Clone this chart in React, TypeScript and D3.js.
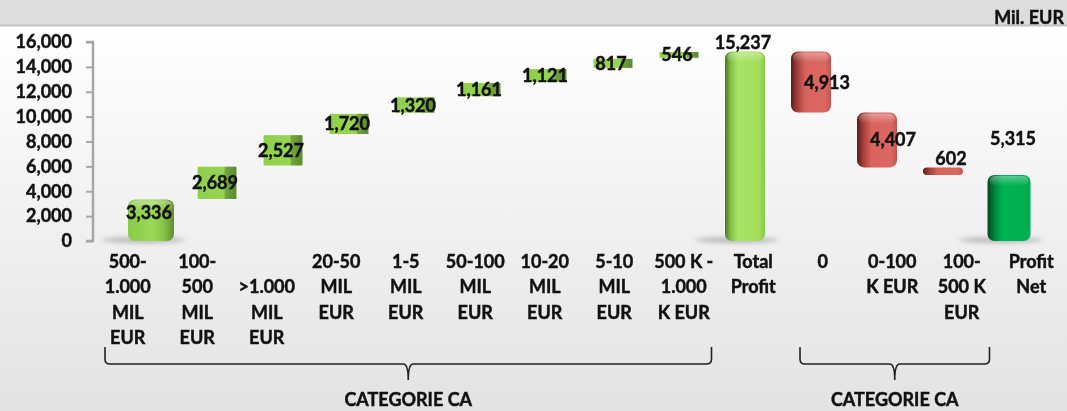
import React, { useEffect, useRef } from "react";
import * as d3 from "d3";

const categories = [
  ["500-", "1.000", "MIL", "EUR"],
  ["100-", "500", "MIL", "EUR"],
  ["", ">1.000", "MIL", "EUR"],
  ["20-50", "MIL", "EUR"],
  ["1-5", "MIL", "EUR"],
  ["50-100", "MIL", "EUR"],
  ["10-20", "MIL", "EUR"],
  ["5-10", "MIL", "EUR"],
  ["500 K -", "1.000", "K EUR"],
  ["Total", "Profit"],
  ["0"],
  ["0-100", "K EUR"],
  ["100-", "500 K", "EUR"],
  ["Profit", "Net"],
];

const deltas = [3336, 2689, 2527, 1720, 1320, 1161, 1121, 817, 546, 15237, -4913, -4407, -602, 5315];
const kinds = ["up", "up", "up", "up", "up", "up", "up", "up", "up", "total", "down", "down", "down", "net"];
const yTicks = [0, 2000, 4000, 6000, 8000, 10000, 12000, 14000, 16000];
const groups = [
  { from: 0, to: 8, label: "CATEGORIE CA" },
  { from: 10, to: 12, label: "CATEGORIE CA" },
];
const unitLabel = "Mil. EUR";

const FONT = "Lato, 'Open Sans', sans-serif";

export default function App() {
  const svgRef = useRef<SVGSVGElement | null>(null);

  useEffect(() => {
    if (!svgRef.current) return;
    const width = 1067;
    const height = 411;

    const svg = d3.select(svgRef.current);
    svg.selectAll("*").remove();
    svg.attr("width", width).attr("height", height);

    // running totals for the waterfall
    let run = 0;
    const bars = deltas.map((v, i) => {
      const kind = kinds[i];
      let start: number, end: number;
      if (kind === "total" || kind === "net") {
        start = 0;
        end = v;
        run = v;
      } else {
        start = run;
        end = run + v;
        run = end;
      }
      return { i, kind, value: Math.abs(v), lo: Math.min(start, end), hi: Math.max(start, end) };
    });

    const idx = categories.map((_, i) => String(i));
    const xLabel = d3.scaleBand().domain(idx).range([93, 1066]);
    const xBar = d3.scaleBand().domain(idx).range([118, 1042]).paddingInner(0.4).paddingOuter(0.2);
    const y = d3.scaleLinear().domain([0, 16000]).range([241, 42]);
    const fmt = d3.format(",");

    // bold text, a touch heavier to match the original rendering
    const boldText = (sel: any) =>
      sel.attr("font-family", FONT).attr("font-weight", 700).attr("font-size", 18)
        .attr("fill", "#111").attr("stroke", "#111").attr("stroke-width", 0.45);

    const defs = svg.append("defs");
    const hGrad = (id: string, stops: [number, string][]) => {
      const g = defs.append("linearGradient").attr("id", id).attr("x1", "0").attr("x2", "1").attr("y1", "0").attr("y2", "0");
      stops.forEach(([o, c]) => g.append("stop").attr("offset", o).attr("stop-color", c));
    };
    hGrad("g-up", [[0, "#8fcf4c"], [0.68, "#97d654"], [0.7, "#76a83e"], [1, "#5a872c"]]);
    hGrad("g-first", [[0, "#8ccb4a"], [0.55, "#9ad858"], [0.78, "#86c246"], [1, "#5f8e30"]]);
    hGrad("g-total", [[0, "#4b7620"], [0.14, "#80bf45"], [0.32, "#a8e362"], [0.85, "#a2de5c"], [1, "#8ac64a"]]);
    hGrad("g-down", [[0, "#5e1a17"], [0.16, "#a4403a"], [0.36, "#d9625c"], [0.85, "#db6862"], [1, "#c4544e"]]);
    hGrad("g-net", [[0, "#00471f"], [0.16, "#00843b"], [0.36, "#00b453"], [1, "#00ad4e"]]);

    const bg = defs.append("linearGradient").attr("id", "g-bg").attr("x1", "0").attr("x2", "0").attr("y1", "0").attr("y2", "1");
    bg.append("stop").attr("offset", 0).attr("stop-color", "#ffffff");
    bg.append("stop").attr("offset", 1).attr("stop-color", "#e3e3e3");

    const hl = defs.append("linearGradient").attr("id", "g-hl").attr("x1", "0").attr("x2", "0").attr("y1", "0").attr("y2", "1");
    hl.append("stop").attr("offset", 0).attr("stop-color", "#ffffff").attr("stop-opacity", 0.35);
    hl.append("stop").attr("offset", 1).attr("stop-color", "#ffffff").attr("stop-opacity", 0);

    defs.append("filter").attr("id", "f-blur").attr("x", "-50%").attr("y", "-200%").attr("width", "200%").attr("height", "500%")
      .append("feGaussianBlur").attr("stdDeviation", 2.5);

    // background + header strip
    svg.append("rect").attr("x", 0).attr("y", 26).attr("width", width).attr("height", height - 26).attr("fill", "url(#g-bg)");
    svg.append("rect").attr("x", 0).attr("y", 0).attr("width", width).attr("height", 25).attr("fill", "#dddddd");
    svg.append("line").attr("x1", 0).attr("x2", width).attr("y1", 25.5).attr("y2", 25.5).attr("stroke", "#c2c2c2").attr("stroke-width", 2);

    svg.append("text")
      .attr("x", 1064).attr("y", 24)
      .attr("text-anchor", "end")
      .call(boldText)
      .text(unitLabel);

    // y axis
    const yAxis = svg.append("g")
      .attr("transform", "translate(93,0)")
      .call(d3.axisLeft(y).tickValues(yTicks).tickFormat((d) => fmt(d as number)).tickSize(7).tickPadding(14));
    yAxis.select(".domain").attr("stroke", "#a6a6a6").attr("stroke-width", 2.5).attr("d", `M-7,${y(16000)}H0V${y(0)}H-7`);
    yAxis.selectAll(".tick line").attr("stroke", "#a6a6a6").attr("stroke-width", 2);
    yAxis.selectAll(".tick text").call(boldText);

    // base shadows for the tall 3D bars
    svg.append("g").selectAll("ellipse")
      .data(bars.filter((b) => b.lo === 0))
      .join("ellipse")
      .attr("cx", (b) => xBar(String(b.i))! + xBar.bandwidth() / 2 - 8)
      .attr("cy", y(0) - 1)
      .attr("rx", xBar.bandwidth() * 1.05)
      .attr("ry", 2.5)
      .attr("fill", "#777")
      .attr("opacity", 0.55)
      .attr("filter", "url(#f-blur)");

    // bars
    const barW = 40;
    const gradFor = (b: any) =>
      b.kind === "up" ? (b.i === 0 ? "url(#g-first)" : "url(#g-up)") :
      b.kind === "total" ? "url(#g-total)" : b.kind === "down" ? "url(#g-down)" : "url(#g-net)";
    const rounded = (b: any) => b.kind !== "up" || b.i === 0;
    const wFor = (b: any) => (b.i === 0 ? 46 : b.kind === "net" ? 43 : barW);

    const barG = svg.append("g").selectAll("g").data(bars).join("g");
    barG.append("rect")
      .attr("x", (b) => xBar(String(b.i))! + xBar.bandwidth() / 2 - wFor(b) / 2)
      .attr("y", (b) => y(b.hi))
      .attr("width", (b) => wFor(b))
      .attr("height", (b) => Math.max(1, y(b.lo) - y(b.hi)))
      .attr("rx", (b) => (rounded(b) ? Math.min(7, (y(b.lo) - y(b.hi)) / 2) : 0))
      .attr("fill", (b) => gradFor(b))
      .attr("stroke", (b) => (rounded(b) ? "none" : "#ffffff"))
      .attr("stroke-width", 1);
    barG.filter((b) => rounded(b) && y(b.lo) - y(b.hi) > 20)
      .append("rect")
      .attr("x", (b) => xBar(String(b.i))! + xBar.bandwidth() / 2 - wFor(b) / 2 + 2)
      .attr("y", (b) => y(b.hi) + 1)
      .attr("width", (b) => wFor(b) - 4)
      .attr("height", 10)
      .attr("rx", 6)
      .attr("fill", "url(#g-hl)");

    // value labels
    svg.append("g").selectAll("text")
      .data(bars)
      .join("text")
      .attr("x", (b) => {
        const c = xBar(String(b.i))! + xBar.bandwidth() / 2;
        if (b.kind === "down") return c + (y(b.lo) - y(b.hi) < 15 ? 8 : 16);
        if (b.kind === "net") return c + 4;
        return c - 2;
      })
      .attr("y", (b) => {
        const top = y(b.hi);
        const h = y(b.lo) - top;
        if (b.kind === "total") return top - 9;
        if (b.kind === "net") return top - 36;
        if (b.kind === "down" && h < 15) return top - 9;
        if (b.i === 0) return top + h / 2 - 8;
        return top + h / 2;
      })
      .attr("dy", "0.36em")
      .attr("text-anchor", "middle")
      .call(boldText)
      .text((b) => fmt(b.value));

    // category labels
    const catG = svg.append("g").selectAll("text")
      .data(categories)
      .join("text")
      .attr("text-anchor", "middle")
      .call(boldText);
    catG.selectAll("tspan")
      .data((d, i) => d.map((line) => ({ line, i })))
      .join("tspan")
      .attr("x", (d) => xLabel(String(d.i))! + xLabel.bandwidth() / 2)
      .attr("y", (_, k) => 268 + k * 25.3)
      .text((d) => d.line);

    // group braces
    const braceTop = 347;
    const braceMid = 364;
    const braceTip = 380;
    groups.forEach((g) => {
      const x1 = xLabel(String(g.from))! + 12;
      const x2 = xLabel(String(g.to))! + xLabel.bandwidth() - 7;
      const xm = (x1 + x2) / 2;
      const r = 5;
      const p = d3.path();
      p.moveTo(x1, braceTop);
      p.lineTo(x1, braceMid - r);
      p.quadraticCurveTo(x1, braceMid, x1 + r, braceMid);
      p.lineTo(xm - r, braceMid);
      p.quadraticCurveTo(xm, braceMid, xm, braceTip);
      p.quadraticCurveTo(xm, braceMid, xm + r, braceMid);
      p.lineTo(x2 - r, braceMid);
      p.quadraticCurveTo(x2, braceMid, x2, braceMid - r);
      p.lineTo(x2, braceTop);
      svg.append("path").attr("d", p.toString()).attr("fill", "none").attr("stroke", "#222").attr("stroke-width", 1.6);
      svg.append("text")
        .attr("x", xm).attr("y", 406)
        .attr("text-anchor", "middle")
        .call(boldText)
        .text(g.label);
    });
  }, []);

  return <svg ref={svgRef} style={{ position: "fixed", left: 0, top: 0, display: "block" }} />;
}
